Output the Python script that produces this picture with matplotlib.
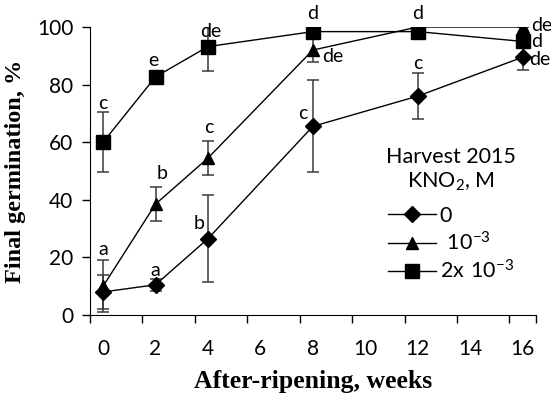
import matplotlib
matplotlib.use("Agg")
import matplotlib.pyplot as plt
import numpy as np

plt.rcParams['font.family'] = ['Lato', 'DejaVu Sans']
plt.rcParams['mathtext.fontset'] = 'custom'
plt.rcParams['mathtext.rm'] = 'Lato'

weeks = [0, 2, 4, 8, 12, 16]
tick_labels = ['0', '2', '4', '6', '8', '10', '12', '14', '16']

g0 = [8, 10.5, 26.5, 65.5, 76, 89.5]
e0 = [5.8, 2.1, 15, 16, 8, 4.5]
l0 = ['a', 'a', 'b', 'c', 'c', 'de']
o0 = [(0, 42), (0, 14), (-9, 15), (-10, 13), (0, 33), (17, -2)]

g1 = [10, 38.5, 54.5, 92, 100, 100]
e1 = [9, 6, 6, 4, 0, 0]
l1 = ['', 'b', 'c', 'de', '', 'de']
o1 = [(0, 0), (7, 31), (1, 31), (20, -6), (0, 0), (19, 2)]

g2 = [60, 82.7, 93.2, 98.4, 98.4, 95]
e2 = [10.5, 0, 8.3, 0, 0, 0]
l2 = ['c', 'e', 'de', 'd', 'd', 'd']
o2 = [(0, 39), (-2, 16), (3, 15), (0, 18), (0, 18), (14, 0)]

series = [
    (g0, e0, l0, o0, 'D', 8.5, '0'),
    (g1, e1, l1, o1, '^', 9, r'$\mathregular{\ 10^{-3}}$'),
    (g2, e2, l2, o2, 's', 9.5, r'$\mathregular{2x\ 10^{-3}}$'),
]

fig = plt.figure(figsize=(5.51, 3.99), dpi=100)
ax = fig.add_axes([0.1633, 0.2105, 0.9722 - 0.1633, 0.9323 - 0.2105])

handles = []
for vals, errs, labs, offs, mk, ms, name in series:
    ax.errorbar(weeks, vals, yerr=errs, fmt='none', ecolor='#3a3a3a',
                elinewidth=1.1, capsize=4, capthick=1.1, zorder=2)
    h, = ax.plot(weeks, vals, color='black', lw=1.0, marker=mk, ms=ms,
                 mfc='black', mec='black', label=name, zorder=3)
    handles.append(h)
    for x, v, t, (dx, dy) in zip(weeks, vals, labs, offs):
        if t:
            ax.annotate(t, xy=(x, v), xytext=(dx, dy), textcoords='offset pixels',
                        ha='center', va='center', fontsize=14, annotation_clip=False)

ax.set_xlim(-0.5, 16.5)
ax.set_ylim(0, 100)
ax.spines['top'].set_visible(False)
ax.spines['right'].set_visible(False)

major = list(np.arange(-0.5, 16, 2)) + [16.5]
ax.set_xticks(major)
ax.set_xticklabels([])
ax.set_xticks(np.arange(0, 17, 2), minor=True)
ax.set_xticklabels(tick_labels, minor=True)
ax.tick_params(axis='x', which='major', direction='out', length=6, width=1)
ax.tick_params(axis='x', which='minor', length=0, pad=17, labelsize=15)
ax.set_yticks([0, 20, 40, 60, 80, 100])
ax.tick_params(axis='y', direction='out', length=6, width=1, pad=6, labelsize=15)

ax.set_xlabel('After-ripening, weeks', family='Liberation Serif', fontweight='bold',
              fontsize=18.5, labelpad=8)
ax.set_ylabel('Final germination, %', family='Liberation Serif', fontweight='bold',
              fontsize=17.5, labelpad=8)

leg = ax.legend(handles=handles, loc='upper center', bbox_to_anchor=(0.81, 0.62),
                frameon=False, fontsize=15.5, title='Harvest 2015\n' + r'KNO$_\mathregular{2}$, M',
                title_fontsize=15.5, handlelength=2.2, handletextpad=0.2,
                labelspacing=0.25, borderpad=0)
leg.get_title().set_multialignment('center')
leg._legend_box.align = 'center'
leg._legend_box.sep = 9

fig.savefig('out.png', dpi=100)
